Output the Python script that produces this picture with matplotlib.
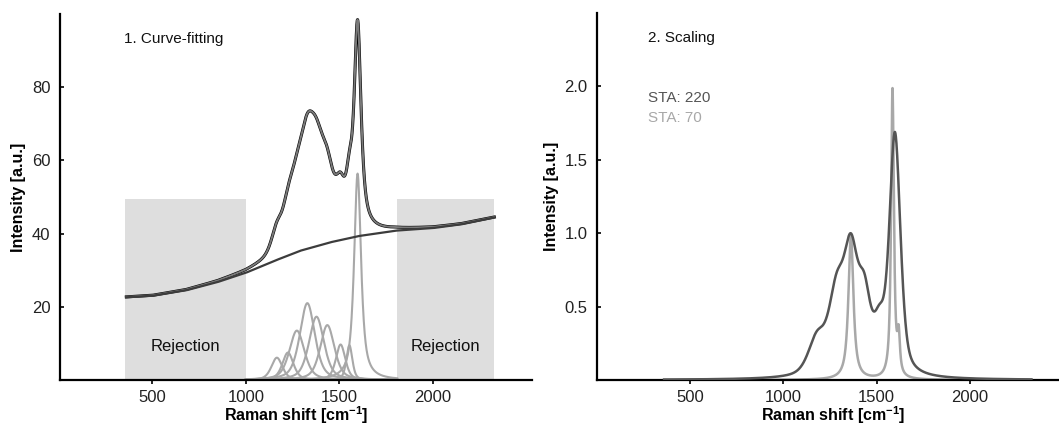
import numpy as np
import matplotlib
matplotlib.use("Agg")
import matplotlib.pyplot as plt

plt.rcParams['font.family'] = ['Liberation Sans', 'DejaVu Sans']

# ---------------- data ----------------
# Left panel: baseline
baseline_x = [360, 500, 680, 845, 1000, 1150, 1290, 1450, 1600, 1800, 2000, 2150, 2330]
baseline_y = [22.6, 23.0, 24.5, 26.7, 29.3, 32.5, 35.3, 37.6, 39.3, 40.8, 41.5, 42.5, 44.4]

# fitted component peaks (pseudo-Voigt): centre, height, FWHM, Lorentzian fraction
comp_center = [1166, 1225, 1273, 1329, 1378, 1436, 1507, 1554, 1598]
comp_height = [6.1, 7.5, 13.5, 21.0, 17.3, 15.0, 9.7, 9.5, 56.4]
comp_fwhm = [70, 70, 95, 95, 95, 90, 60, 38, 44]
comp_eta = [0.5, 0.5, 0.5, 0.5, 0.5, 0.5, 0.5, 0.5, 0.8]

rejection_ranges = [(355, 1000), (1808, 2329)]
rejection_top = 49.4

# Right panel: scaled spectra as component sums
sta220_center = [1180, 1285, 1362, 1435, 1515, 1598]
sta220_height = [0.24, 0.52, 0.76, 0.465, 0.27, 1.63]
sta220_fwhm = [110, 100, 90, 80, 70, 70]

sta70_center = [1362, 1585, 1618]
sta70_height = [0.98, 1.97, 0.25]
sta70_fwhm = [32, 18, 16]

x_ticks = [500, 1000, 1500, 2000]
left_yticks = [20, 40, 60, 80]
right_yticks = [0.5, 1.0, 1.5, 2.0]

# ---------------- helpers ----------------
shift = np.arange(360, 2331, 1.0)


def pvoigt(x, c, h, f, eta=0.5):
    lor = 1.0 / (1.0 + (2 * (x - c) / f) ** 2)
    gau = np.exp(-4 * np.log(2) * ((x - c) / f) ** 2)
    return h * (eta * lor + (1 - eta) * gau)


W, H = 1059, 425
fig = plt.figure(figsize=(W / 100, H / 100), dpi=100)

ax1 = fig.add_axes([60 / W, (H - 380) / H, 471.7 / W, 366 / H])
ax2 = fig.add_axes([597 / W, (H - 380) / H, 471.7 / W, 367.3 / H])

dark = '#3c3c3c'
mid = '#7a7a7a'
light = '#a8a8a8'

# ---------- left panel ----------
for lo, hi in rejection_ranges:
    ax1.fill_between([lo, hi], 0, rejection_top, color='#dedede', lw=0, zorder=0)

base = np.interp(shift, baseline_x, baseline_y)
peaks = [pvoigt(shift, c, h, f, e) for c, h, f, e in zip(comp_center, comp_height, comp_fwhm, comp_eta)]
fit = base + np.sum(peaks, axis=0)

ax1.plot(shift, fit, color='black', lw=2.2, zorder=2)
ax1.plot(shift, fit, color=mid, lw=1.4, zorder=3)
ax1.plot(shift, base, color=dark, lw=1.6, zorder=4)
mask = (shift >= 1000) & (shift <= 1810)
for p in peaks:
    ax1.plot(shift[mask], p[mask], color=light, lw=1.5, zorder=2)

ax1.text(679, 9.1, 'Rejection', ha='center', va='center', fontsize=12, color='#111111')
ax1.text(2069, 9.1, 'Rejection', ha='center', va='center', fontsize=12, color='#111111')
ax1.text(348, 93.2, '1. Curve-fitting', ha='left', va='center', fontsize=11, color='#111111')

ax1.set_xlim(5, 2530)
ax1.set_ylim(0, 100)
ax1.set_yticks(left_yticks)

# ---------- right panel ----------
s220 = np.sum([pvoigt(shift, c, h, f, 0.5) for c, h, f in zip(sta220_center, sta220_height, sta220_fwhm)], axis=0)
s70 = np.sum([pvoigt(shift, c, h, f, 0.9) for c, h, f in zip(sta70_center, sta70_height, sta70_fwhm)], axis=0)
ax2.plot(shift, s70, color=light, lw=1.8, zorder=2)
ax2.plot(shift, s220, color='#555555', lw=1.8, zorder=3)

ax2.text(275, 2.328, '2. Scaling', ha='left', va='center', fontsize=11, color='#111111')
ax2.text(275, 1.92, 'STA: 220', ha='left', va='center', fontsize=11, color='#555555')
ax2.text(275, 1.78, 'STA: 70', ha='left', va='center', fontsize=11, color='#a8a8a8')

ax2.set_xlim(0, 2530)
ax2.set_ylim(0, 2.5)
ax2.set_yticks(right_yticks)

for ax in (ax1, ax2):
    ax.set_xticks(x_ticks)
    for side in ('top', 'right'):
        ax.spines[side].set_visible(False)
    for side in ('left', 'bottom'):
        ax.spines[side].set_linewidth(1.6)
        ax.spines[side].set_color('black')
    ax.tick_params(axis='y', direction='in', length=3, width=1.2, labelsize=12, pad=7, colors='black')
    ax.tick_params(axis='x', direction='out', length=3, width=1.2, labelsize=12, pad=4, colors='black')
    for lab in ax.get_xticklabels() + ax.get_yticklabels():
        lab.set_color('#222222')
    ax.set_xlabel('Raman shift [cm$^{\\mathregular{-1}}$]', fontsize=11.5, fontweight='bold', labelpad=0)
    ax.set_ylabel('Intensity [a.u.]', fontsize=11.5, fontweight='bold', labelpad=4)

fig.savefig('out.png', dpi=100)
